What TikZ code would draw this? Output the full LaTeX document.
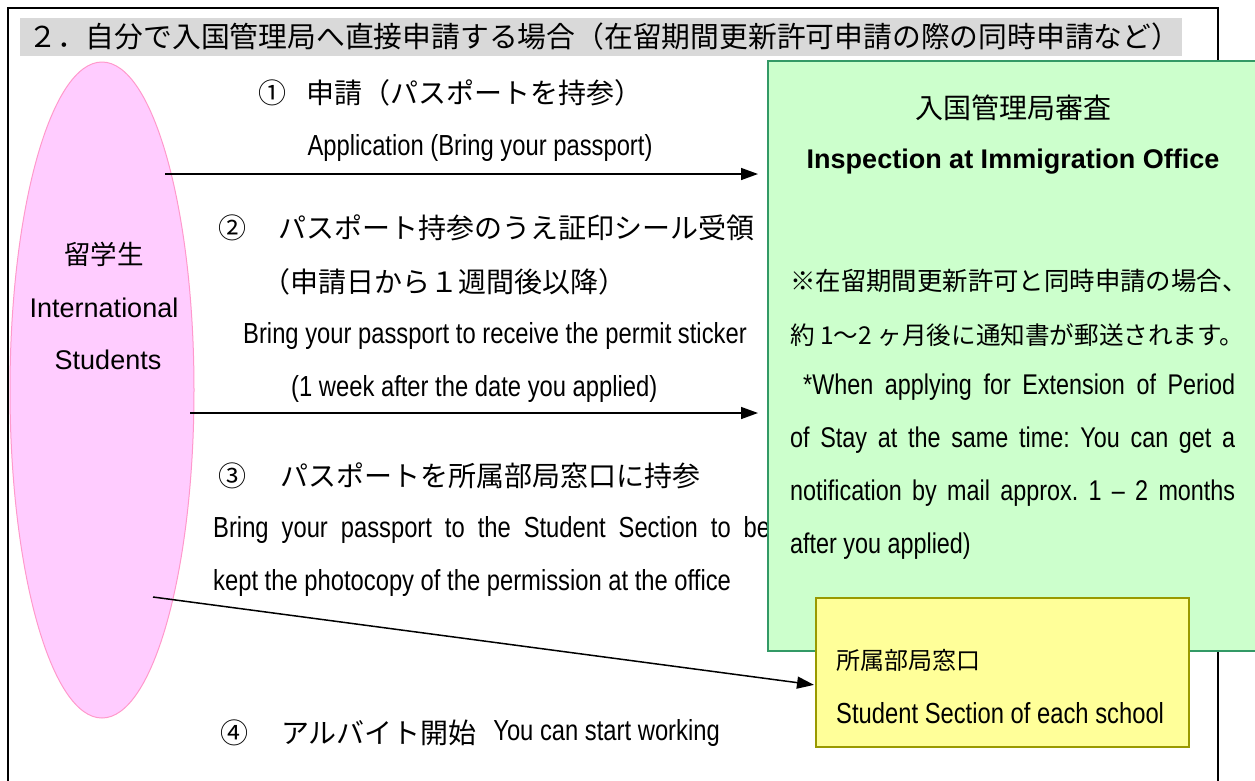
\documentclass[tikz,border=0pt]{standalone}
\usepackage{fontspec}
\setmainfont[FakeStretch=0.82]{Liberation Sans}
\newfontfamily\arialfont{Liberation Sans}
\newfontfamily\jpfont{Noto Sans CJK JP}
\usetikzlibrary{arrows.meta,shapes.geometric}
\definecolor{pinkfill}{HTML}{FFCCFF}
\definecolor{pinkline}{HTML}{FF99CC}
\definecolor{greenfill}{HTML}{CCFFCC}
\definecolor{greenline}{HTML}{339966}
\definecolor{yellowfill}{HTML}{FFFF99}
\definecolor{yellowline}{HTML}{999900}
\definecolor{titlegray}{HTML}{D9D9D9}
\frenchspacing
\begin{document}
\begin{tikzpicture}[x=1pt,y=-1pt,
  txt/.style={inner sep=0pt, anchor=west},
  jp/.style={txt, font=\jpfont\fontsize{28}{30}\selectfont},
  en/.style={txt, font=\fontsize{29}{32}\selectfont},
  gjp/.style={txt, font=\jpfont\fontsize{25.4}{28}\selectfont},
  gen/.style={txt, font=\fontsize{28.5}{30}\selectfont},
  arr/.style={line width=1.5pt, -{Triangle[length=17pt,width=12pt]}},
  frame/.style={draw=black, line width=1.8pt},
]
\useasboundingbox (0,0) rectangle (1255,780);
\clip (0,0) rectangle (1255,780);
% outer frame
\draw[frame] (8,820) -- (8,8) -- (1218,8) -- (1218,820);
% title
\fill[titlegray] (20,18) rectangle (1182,56);
\node[txt, font=\jpfont\fontsize{28.8}{30}\selectfont] (title) at (28,37) {２．自分で入国管理局へ直接申請する場合（在留期間更新許可申請の際の同時申請など）};
% student ellipse
\node[ellipse, draw=pinkline, fill=pinkfill, line width=1pt, minimum width=184pt, minimum height=656pt, inner sep=0pt] (stu) at (102,390) {};
\node[inner sep=0pt, font=\jpfont\fontsize{26.5}{28}\selectfont] (stujp) at (104,254) {留学生};
\node[inner sep=0pt, font=\arialfont\fontsize{27}{30}\selectfont] (stuen1) at (104,308) {International};
\node[inner sep=0pt, font=\arialfont\fontsize{27}{30}\selectfont] (stuen2) at (108,360) {Students};
% arrow start points
\coordinate (s1) at (165,174);
\coordinate (s2) at (190,413);
\coordinate (s3) at (153,597);
% texts left
\node[jp] (t1a) at (258,93) {①\hspace{20pt}申請（パスポートを持参）};
\node[en, anchor=center] (t1b) at (480,148) {Application (Bring your passport)};
\node[jp] (t2a) at (218,228) {②\hspace{32pt}パスポート持参のうえ証印シール受領};
\node[jp] (t2b) at (262,282) {（申請日から１週間後以降）};
\node[en] (t2c) at (243,336) {Bring your passport to receive the permit sticker};
\node[en] (t2d) at (291,389) {(1 week after the date you applied)};
\node[jp] (t3a) at (218,476) {③\hspace{34pt}パスポートを所属部局窓口に持参};
\node[en] (t3b) at (213,530) {\makebox[557pt][s]{Bring your passport to the Student Section to be}};
\node[en] (t3c) at (213,583) {kept the photocopy of the permission at the office};
\node[jp] (t4a) at (220,733) {④\hspace{33pt}アルバイト開始};
\node[en] (t4b) at (t4a.east) [xshift=16pt] {You can start working};
% green box
\node[draw=greenline, fill=greenfill, line width=1.5pt, anchor=north west, minimum width=520pt, minimum height=590pt, inner sep=0pt] (gbox) at (767,60) {};
\node[inner sep=0pt, font=\jpfont\fontsize{28}{30}\selectfont] (g1) at (1013,108) {入国管理局審査};
\node[inner sep=0pt, font=\arialfont\bfseries\fontsize{27}{30}\selectfont] (g2) at (1013,162) {Inspection at Immigration Office};
\node[gjp] (g3) at (790,281) {※在留期間更新許可と同時申請の場合、};
\node[gjp, font=\jpfont\fontsize{24.6}{28}\selectfont] (g4) at (790,335) {約 1〜2 ヶ月後に通知書が郵送されます。};
\node[gen] (g5) at (803,387) {\makebox[432pt][s]{*When applying for Extension of Period}};
\node[gen] (g6) at (790,440) {\makebox[445pt][s]{of Stay at the same time: You can get a}};
\node[gen] (g7) at (790,493) {\makebox[445pt][s]{notification by mail approx. 1 – 2 months}};
\node[gen] (g8) at (790,546) {after you applied)};
% yellow box
\node[draw=yellowline, fill=yellowfill, line width=1.5pt, anchor=north west, minimum width=373pt, minimum height=149pt, inner sep=0pt] (ybox) at (815,597) {};
\node[txt, font=\jpfont\fontsize{24}{26}\selectfont] (y1) at (836,660) {所属部局窓口};
\node[en] (y2) at (836,713) {Student Section of each school};
% arrows
\draw[arr, shorten >=9pt] (s1) -- (s1 -| gbox.west);
\draw[arr, shorten >=9pt] (s2) -- (s2 -| gbox.west);
\draw[arr, shorten >=1pt] (s3) -- (ybox.west |- 0,685);
\end{tikzpicture}
\end{document}
